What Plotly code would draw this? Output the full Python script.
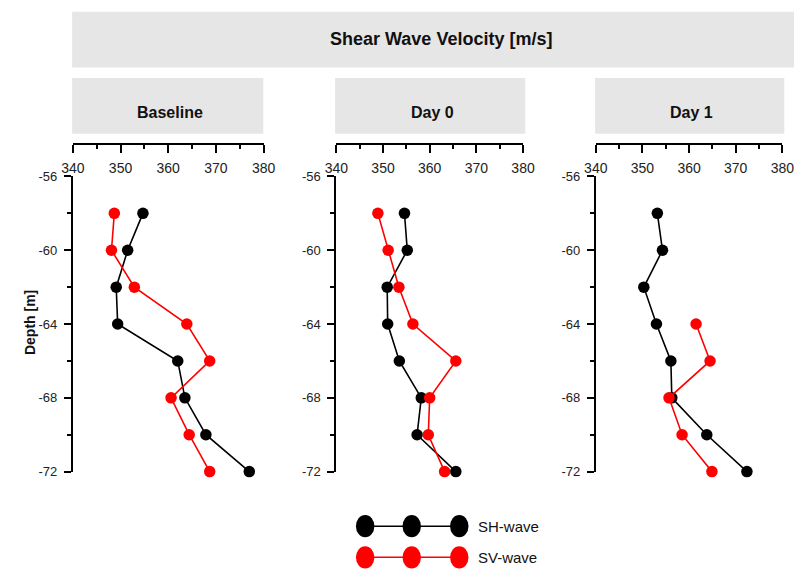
import plotly.graph_objects as go

# ---------------- data ----------------
depths = [-58, -60, -62, -64, -66, -68, -70, -72]
panel_titles = ["Baseline", "Day 0", "Day 1"]
baseline_sh = [354.7, 351.5, 349.1, 349.4, 362.0, 363.5, 367.9, 377.0]
baseline_sv = [348.7, 348.1, 352.9, 363.9, 368.7, 360.6, 364.4, 368.7]
day0_sh = [354.6, 355.2, 350.9, 351.0, 353.5, 358.2, 357.3, 365.6]
day0_sv = [348.9, 351.1, 353.4, 356.4, 365.6, 360.0, 359.7, 363.2]
day1_sh = [353.2, 354.3, 350.3, 353.0, 356.1, 356.3, 363.8, 372.4]
day1_sv = [None, None, None, 361.5, 364.5, 355.7, 358.5, 364.9]
series_names = ["SH-wave", "SV-wave"]
x_tick_vals = [340, 350, 360, 370, 380]
y_tick_vals = [-56, -60, -64, -68, -72]
y_tick_text = ["-56", "-60", "-64", "-68", "-72"]

W, H = 806, 578
FONT = "Liberation Sans, Arial, sans-serif"
BLACK = "#000000"
RED = "#ff0000"
GREY = "#e6e6e6"


def px(x):
    return x / W


def py(y):
    return 1 - y / H


panels = [(baseline_sh, baseline_sv), (day0_sh, day0_sv), (day1_sh, day1_sv)]
x_domains = [(62.7, 259.3), (334.3, 526.7), (601.7, 794.0)]
y_domain = [py(477), py(174)]
x_axis_pos = py(140.5)

fig = go.Figure()
layout = {}
for i, (sh, sv) in enumerate(panels):
    sfx = "" if i == 0 else str(i + 1)
    xref, yref = "x" + sfx, "y" + sfx
    fig.add_trace(go.Scatter(
        x=sh, y=depths, xaxis=xref, yaxis=yref, mode="lines+markers",
        name=series_names[0], showlegend=False, cliponaxis=False,
        line=dict(color=BLACK, width=1.6), marker=dict(color=BLACK, size=11.5)))
    fig.add_trace(go.Scatter(
        x=sv, y=depths, xaxis=xref, yaxis=yref, mode="lines+markers",
        name=series_names[1], showlegend=False, cliponaxis=False, connectgaps=False,
        line=dict(color=RED, width=1.6), marker=dict(color=RED, size=11.5)))
    d0, d1 = x_domains[i]
    layout["xaxis" + sfx] = dict(
        domain=[px(d0), px(d1)], range=[340, 380], anchor="free", position=x_axis_pos,
        side="bottom", showline=True, linewidth=2, linecolor=BLACK,
        ticks="outside", ticklen=8, tickwidth=2, tickcolor=BLACK, ticklabelstandoff=3,
        tickvals=x_tick_vals, showgrid=False, zeroline=False,
        minor=dict(dtick=5, tick0=340, ticks="outside", ticklen=4, tickwidth=2, tickcolor=BLACK, showgrid=False),
        tickfont=dict(family=FONT, size=14, color="#222222"))
    layout["yaxis" + sfx] = dict(
        domain=y_domain, range=[-72, -56], anchor=xref,
        showline=True, linewidth=2, linecolor=BLACK,
        ticks="outside", ticklen=7, tickwidth=2, tickcolor=BLACK, ticklabelstandoff=4,
        tickvals=y_tick_vals, ticktext=y_tick_text, showgrid=False, zeroline=False,
        minor=dict(dtick=2, tick0=-56, ticks="outside", ticklen=4, tickwidth=2, tickcolor=BLACK, showgrid=False),
        tickfont=dict(family=FONT, size=13, color="#222222"))

shapes = []
annotations = []
# top banner
shapes.append(dict(type="rect", xref="paper", yref="paper", x0=px(62), x1=1.0,
                   y0=py(62), y1=py(5), fillcolor=GREY, line=dict(width=0), layer="below"))
annotations.append(dict(text="<b>Shear Wave Velocity [m/s]</b>", xref="paper", yref="paper",
                        x=px(442), y=py(33), showarrow=False, xanchor="center", yanchor="middle",
                        font=dict(family=FONT, size=18, color="#111111")))
# panel banners
banner_x = [(62, 259), (333, 529), (601, 796)]
for (b0, b1), t in zip(banner_x, panel_titles):
    shapes.append(dict(type="rect", xref="paper", yref="paper", x0=px(b0), x1=px(b1),
                       y0=py(130), y1=py(73), fillcolor=GREY, line=dict(width=0), layer="below"))
    annotations.append(dict(text="<b>" + t + "</b>", xref="paper", yref="paper",
                            x=px((b0 + b1) / 2 + 2), y=py(108), showarrow=False,
                            xanchor="center", yanchor="middle",
                            font=dict(family=FONT, size=16, color="#111111")))
# y axis title
annotations.append(dict(text="<b>Depth [m]</b>", xref="paper", yref="paper", x=px(18), y=py(324),
                        showarrow=False, textangle=-90, xanchor="center", yanchor="middle",
                        font=dict(family=FONT, size=14, color="#111111")))

# custom legend (three markers joined by a line)
leg_rows = [(BLACK, 533, series_names[0]), (RED, 565, series_names[1])]
leg_xs = [364, 412, 461]
rx, ry = 9.5, 11.5
for col, yc, label in leg_rows:
    shapes.append(dict(type="line", xref="paper", yref="paper", x0=px(leg_xs[0]), x1=px(leg_xs[-1]),
                       y0=py(yc), y1=py(yc), line=dict(color=col, width=1.5)))
    for xc in leg_xs:
        shapes.append(dict(type="circle", xref="paper", yref="paper",
                           x0=px(xc - rx), x1=px(xc + rx), y0=py(yc + ry), y1=py(yc - ry),
                           fillcolor=col, line=dict(color=col, width=0)))
    annotations.append(dict(text=label, xref="paper", yref="paper", x=px(478), y=py(yc),
                            showarrow=False, xanchor="left", yanchor="middle",
                            font=dict(family=FONT, size=15, color="#111111")))

fig.update_layout(
    width=W, height=H, margin=dict(l=0, r=0, t=0, b=0),
    paper_bgcolor="white", plot_bgcolor="white", showlegend=False,
    shapes=shapes, annotations=annotations, **layout)

fig.write_html("out.html")
